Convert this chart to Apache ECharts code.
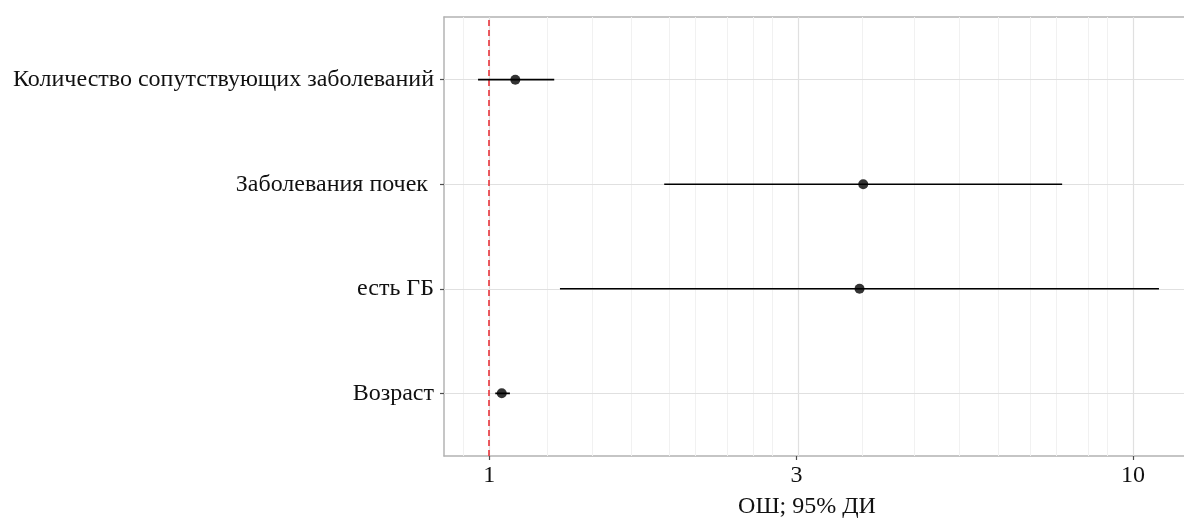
<!DOCTYPE html>
<html><head><meta charset="utf-8">
<script src="https://cdn.jsdelivr.net/npm/echarts@6/dist/echarts.min.js"></script>
<style>html,body{margin:0;padding:0;background:#fff;overflow:hidden;width:1184px;height:518px}#c{width:1300px;height:518px}</style>
</head><body><div id="c"></div>
<script>
// ---- data (bottom to top) ----
const categories = ['Возраст', 'есть ГБ', 'Заболевания почек ', 'Количество сопутствующих заболеваний'];
const orValues = [1.046, 3.76, 3.81, 1.098];
const ciLower  = [1.022, 1.288, 1.87, 0.961];
const ciUpper  = [1.077, 10.97, 7.76, 1.262];
const xTickLabels = [1, 3, 10];
const minorBreaks = [0.922, 1.222, 1.444, 1.667, 1.889, 2.111, 2.333, 2.556, 2.778,
                     3.778, 4.556, 5.333, 6.111, 6.889, 7.667, 8.444, 9.222];
const refValue = 1;
const xTitle = 'ОШ; 95% ДИ';

const log = Math.log10;
const lowL = ciLower.map(log), highL = ciUpper.map(log);
const dMin = Math.min(...lowL), dMax = Math.max(...highL);
const pad = (dMax - dMin) * 0.05;
const xMin = dMin - pad, xMax = dMax + pad;
const yVals = categories.map((c, i) => i + 1);
const yMin = 1 - 0.6, yMax = categories.length + 0.6;

const FONT = '"Liberation Serif", "Times New Roman", serif';
const TXT = '#111';
const gridColor = '#e0e0e0';
const borderStyle = {color: '#b3b3b3', width: 1.5};

const gridLines = [];
minorBreaks.forEach(v => gridLines.push({xAxis: log(v), lineStyle: {color: '#f1f1f1', width: 1, type: 'solid'}}));
xTickLabels.forEach(v => gridLines.push({xAxis: log(v), lineStyle: {color: gridColor, width: 1.2, type: 'solid'}}));
yVals.forEach(v => gridLines.push({yAxis: v, lineStyle: {color: gridColor, width: 1.2, type: 'solid'}}));

// CI segments as a broken line (null separates rows)
const ciData = [];
categories.forEach((c, i) => { ciData.push([lowL[i], i + 1], [highL[i], i + 1], null); });

const chart = echarts.init(document.getElementById('c'), null, {renderer: 'canvas'});
chart.setOption({
  animation: false,
  backgroundColor: '#fff',
  grid: {left: 444, top: 17, width: 749, height: 439, show: false, outerBoundsMode: 'none'},
  xAxis: [{
    type: 'value', min: xMin, max: xMax,
    axisLine: {show: true, onZero: false, lineStyle: borderStyle}, splitLine: {show: false},
    axisTick: {show: true, customValues: xTickLabels.map(log), length: 4,
               lineStyle: {color: '#4d4d4d', width: 1.2}},
    axisLabel: {customValues: xTickLabels.map(log),
                formatter: v => String(Math.round(Math.pow(10, v))),
                margin: 8, fontFamily: FONT, fontSize: 24, color: TXT}
  }, {
    type: 'value', position: 'top', min: xMin, max: xMax,
    axisLine: {show: true, onZero: false, lineStyle: borderStyle},
    axisTick: {show: false}, axisLabel: {show: false}, splitLine: {show: false}
  }],
  yAxis: {
    type: 'value', min: yMin, max: yMax,
    axisLine: {show: true, onZero: false, lineStyle: borderStyle}, splitLine: {show: false},
    axisTick: {show: true, customValues: yVals, length: 4,
               lineStyle: {color: '#4d4d4d', width: 1.2}},
    axisLabel: {customValues: yVals,
                formatter: v => categories[Math.round(v) - 1],
                margin: 10, fontFamily: FONT, fontSize: 24, color: TXT}
  },
  graphic: [{
    type: 'text', x: 807, y: 507, z: 10,
    style: {text: xTitle, font: '24px ' + FONT, fill: TXT,
            textAlign: 'center', textVerticalAlign: 'middle'}
  }],
  series: [
    {type: 'scatter', data: [], z: 1, silent: true,
     markLine: {z: 1, silent: true, symbol: 'none', label: {show: false},
                emphasis: {disabled: true}, animation: false, data: gridLines}},
    {type: 'scatter', data: [], z: 2, silent: true,
     markLine: {z: 2, silent: true, symbol: 'none', label: {show: false},
                emphasis: {disabled: true}, animation: false,
                data: [{xAxis: log(refValue),
                        lineStyle: {color: '#e8333a', width: 1.6, type: [6, 4]}}]}},
    {type: 'line', z: 10, silent: true, showSymbol: false, connectNulls: false,
     data: ciData, lineStyle: {color: '#000', width: 1.7}, itemStyle: {color: '#000'}},
    {type: 'scatter', z: 11, silent: true, symbol: 'circle', symbolSize: 10,
     itemStyle: {color: '#000'},
     data: orValues.map((v, i) => [log(v), i + 1])}
  ]
});
</script></body></html>
